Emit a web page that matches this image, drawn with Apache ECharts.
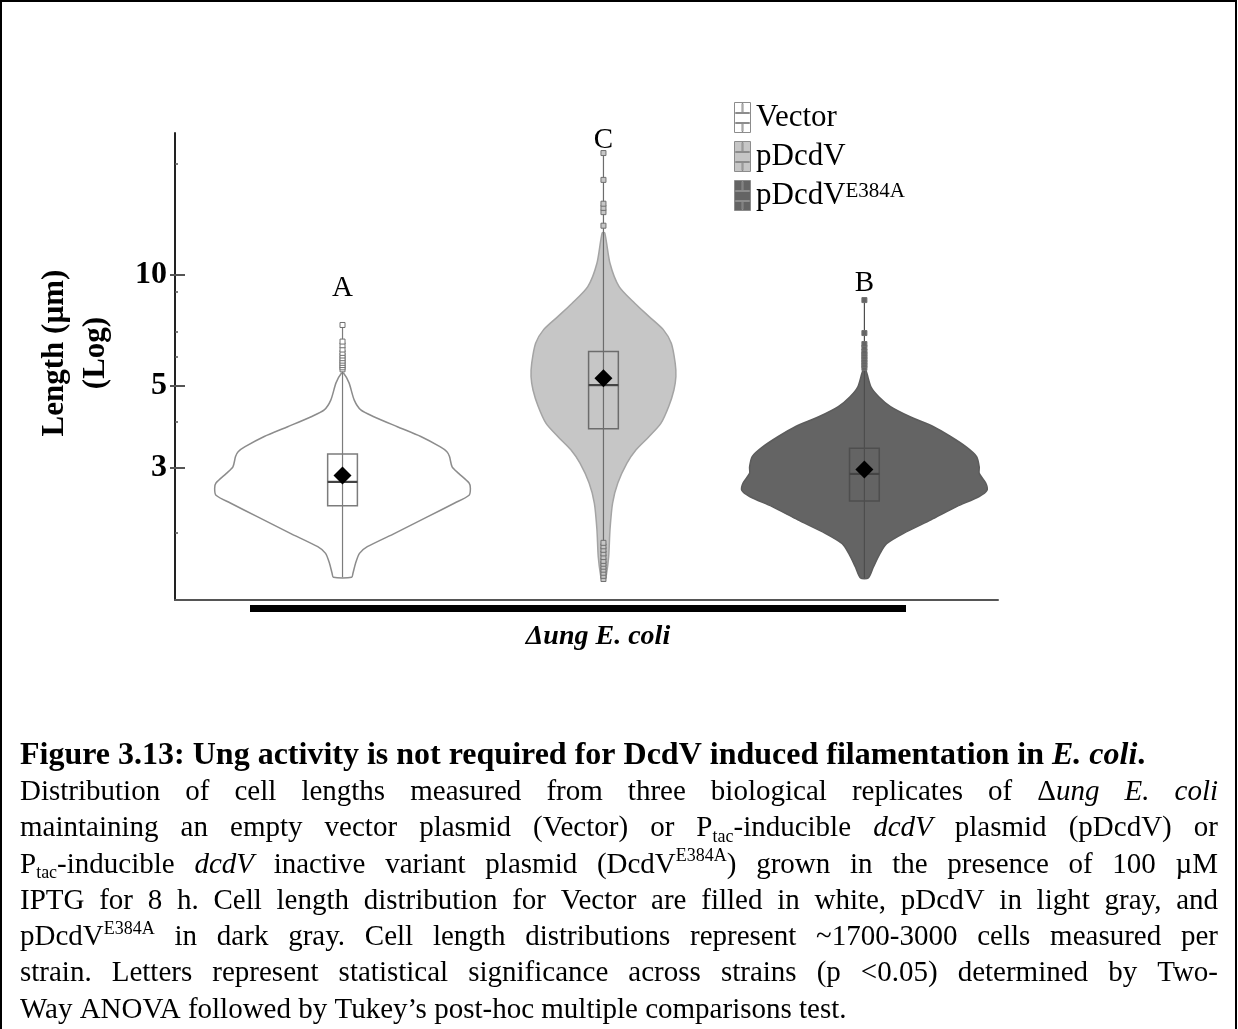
<!DOCTYPE html>
<html><head><meta charset="utf-8">
<script src="https://cdn.jsdelivr.net/npm/echarts@6/dist/echarts.min.js"></script>
<style>html,body{margin:0;padding:0;background:#fff}#c{width:1238px;height:1029px}</style>
</head><body><div id="c"></div>
<script>
// ---------------- data ----------------
const groups = ['Vector', 'pDcdV', 'pDcdVE384A'];
const letters = ['A', 'C', 'B'];
const letterAt = [9.2, 23.2, 9.5];           // µm level of the significance letter
const majorTicks = [3, 5, 10];
const minorTicks = [2, 4, 6, 7, 9, 20];
const yMin = 1.316, yMax = 24.25;            // µm (log axis range)

// violin profiles: cell length (µm) and relative density
const vectorLen = [1.516,1.555,1.655,1.76,1.835,1.995,2.21,2.41,2.53,2.64,2.73,2.90,3.02,3.22,3.32,3.42,3.65,3.88,4.13,4.31,4.58,5.10,5.41];
const vectorDen = [0.07,0.08,0.10,0.13,0.19,0.40,0.65,0.86,0.97,0.98,0.97,0.89,0.84,0.82,0.80,0.75,0.60,0.42,0.24,0.14,0.09,0.05,0.01];
const pdcdvLen  = [1.49,1.52,1.725,2.04,2.41,2.73,3.09,3.36,3.65,3.96,4.40,4.88,5.30,5.76,6.53,7.10,7.71,8.38,9.30,10.76,13.0];
const pdcdvDen  = [0.01,0.02,0.04,0.05,0.07,0.11,0.18,0.25,0.35,0.44,0.50,0.54,0.555,0.55,0.52,0.46,0.35,0.24,0.12,0.05,0.01];
const e384aLen  = [1.51,1.62,1.76,1.87,1.995,2.17,2.36,2.51,2.61,2.73,2.90,3.02,3.22,3.42,3.65,3.88,4.13,4.40,4.68,4.98,5.53];
const e384aDen  = [0.03,0.07,0.12,0.17,0.30,0.51,0.71,0.88,0.94,0.93,0.88,0.88,0.86,0.78,0.66,0.53,0.35,0.20,0.11,0.05,0.01];

// box statistics (µm)
const q1     = [2.37, 3.83, 2.44];
const median = [2.75, 5.03, 2.89];
const q3     = [3.27, 6.20, 3.39];
const mean   = [2.86, 5.25, 2.97];

// outliers (µm)
const vectorOut = [5.55,5.62,5.70,5.78,5.86,5.95,6.05,6.15,6.28,6.45,6.60,7.32];
const pdcdvOut  = [1.50,1.53,1.56,1.59,1.62,1.65,1.68,1.72,1.76,1.80,1.84,1.88,13.6,14.8,15.2,15.6,18.1,21.4];
const e384aOut  = [5.60,5.70,5.80,5.90,6.00,6.10,6.20,6.35,6.50,6.96,8.55];

// ---------------- styles ----------------
const violinLen = [vectorLen, pdcdvLen, e384aLen];
const violinDen = [vectorDen, pdcdvDen, e384aDen];
const outliers  = [vectorOut, pdcdvOut, e384aOut];
const fills   = ['#ffffff', '#c6c6c6', '#646464'];
const strokes = ['#8c8c8c', '#a4a4a4', '#5c5c5c'];
const boxStroke = ['#7c7c7c', '#6c6c6c', '#4e4e4e'];
const VW = 0.5;     // x-units per unit density
const BW = 0.057;   // half box width in x-units
const FONT = '"Liberation Serif", "Times New Roman", serif';
const L = Math.log10;

function makeRender(k) {
  return function (params, api) {
    const xc = k + 1;
    const lens = violinLen[k], dens = violinDen[k];
    const pts = [];
    for (let i = 0; i < lens.length; i++) pts.push(api.coord([xc + dens[i] * VW, L(lens[i])]));
    for (let i = lens.length - 1; i >= 0; i--) pts.push(api.coord([xc - dens[i] * VW, L(lens[i])]));
    const children = [];
    children.push({ type: 'polygon', shape: { points: pts, smooth: 0.25 },
      style: { fill: fills[k], stroke: strokes[k], lineWidth: 1.5 } });
    const all = lens.concat(outliers[k]);
    const lo = api.coord([xc, L(Math.min.apply(null, all))]);
    const hi = api.coord([xc, L(Math.max.apply(null, all))]);
    children.push({ type: 'line', shape: { x1: lo[0], y1: lo[1], x2: hi[0], y2: hi[1] },
      style: { stroke: boxStroke[k], lineWidth: 1.2 } });
    outliers[k].forEach(v => {
      const p = api.coord([xc, L(v)]);
      children.push({ type: 'rect', shape: { x: p[0] - 2.5, y: p[1] - 2.5, width: 5, height: 5 },
        style: { fill: k === 0 ? '#ffffff' : fills[k], stroke: '#707070', lineWidth: 1 } });
    });
    const a = api.coord([xc - BW, L(q3[k])]);
    const b = api.coord([xc + BW, L(q1[k])]);
    children.push({ type: 'rect', shape: { x: a[0], y: a[1], width: b[0] - a[0], height: b[1] - a[1] },
      style: { fill: 'none', stroke: boxStroke[k], lineWidth: 1.5 } });
    const m1 = api.coord([xc - BW, L(median[k])]);
    const m2 = api.coord([xc + BW, L(median[k])]);
    children.push({ type: 'line', shape: { x1: m1[0], y1: m1[1], x2: m2[0], y2: m2[1] },
      style: { stroke: '#444', lineWidth: 2.2 } });
    const mc = api.coord([xc, L(mean[k])]);
    const d = 9;
    children.push({ type: 'polygon', shape: { points: [[mc[0], mc[1] - d], [mc[0] + d, mc[1]], [mc[0], mc[1] + d], [mc[0] - d, mc[1]]] },
      style: { fill: '#000' } });
    const lp = api.coord([xc, L(letterAt[k])]);
    children.push({ type: 'text', x: lp[0], y: lp[1],
      style: { text: letters[k], fontFamily: FONT, fontSize: 29, fill: '#000', align: 'center', verticalAlign: 'middle' } });
    return { type: 'group', children };
  };
}

// ---------------- caption (justified text) ----------------
const CAP = 29;
const capLines = [
  { j: false, d: 'b', t: 'Figure 3.13: Ung activity is not required for DcdV induced filamentation in {bi|E.} {bi|coli}{b|.}' },
  { j: true,  d: 'n', t: 'Distribution of cell lengths measured from three biological replicates of {n|Δ}{i|ung} {i|E.} {i|coli}' },
  { j: true,  d: 'n', t: 'maintaining an empty vector plasmid (Vector) or {n|P}{sub|tac}{n|-inducible} {i|dcdV} plasmid (pDcdV) or' },
  { j: true,  d: 'n', t: '{n|P}{sub|tac}{n|-inducible} {i|dcdV} inactive variant plasmid {n|(DcdV}{sup|E384A}{n|)} grown in the presence of 100 µM' },
  { j: true,  d: 'n', t: 'IPTG for 8 h. Cell length distribution for Vector are filled in white, pDcdV in light gray, and' },
  { j: true,  d: 'n', t: '{n|pDcdV}{sup|E384A} in dark gray. Cell length distributions represent ~1700-3000 cells measured per' },
  { j: true,  d: 'n', t: 'strain. Letters represent statistical significance across strains (p <0.05) determined by Two-' },
  { j: false, d: 'n', t: 'Way ANOVA followed by Tukey’s post-hoc multiple comparisons test.' }
];
const capX0 = 20, capX1 = 1218, capY0 = 756, capDY = 36.3;
const mctx = document.createElement('canvas').getContext('2d');
function segStyle(st) {
  const s = { fontFamily: FONT, fontSize: CAP, fontWeight: 'normal', fontStyle: 'normal', dy: 0 };
  if (st === 'b' || st === 'bi') { s.fontWeight = 'bold'; s.fontSize = 32; }
  if (st === 'i' || st === 'bi') s.fontStyle = 'italic';
  if (st === 'sub') { s.fontSize = Math.round(CAP * 0.62); s.dy = CAP * 0.3; }
  if (st === 'sup') { s.fontSize = Math.round(CAP * 0.62); s.dy = -CAP * 0.3; }
  return s;
}
function measure(text, s) {
  mctx.font = s.fontStyle + ' ' + s.fontWeight + ' ' + s.fontSize + 'px "Liberation Serif"';
  return mctx.measureText(text).width;
}
function parseWord(w, def) {
  const segs = []; const re = /\{(\w+)\|([^}]*)\}|([^{]+)/g; let m;
  while ((m = re.exec(w))) { if (m[1]) segs.push({ st: m[1], t: m[2] }); else segs.push({ st: def, t: m[3] }); }
  return segs;
}
const capElements = [];
capLines.forEach((ln, li) => {
  const y = capY0 + li * capDY;
  const words = ln.t.split(' ').map(w => parseWord(w, ln.d).map(sg => {
    const s = segStyle(sg.st); return { t: sg.t, s, w: measure(sg.t, s) };
  }));
  const widths = words.map(ws => ws.reduce((a, b) => a + b.w, 0));
  const total = widths.reduce((a, b) => a + b, 0);
  const gap = ln.j ? (capX1 - capX0 - total) / (words.length - 1) : measure(' ', segStyle(ln.d));
  let x = capX0;
  words.forEach((ws, wi) => {
    ws.forEach(sg => {
      capElements.push({ type: 'text', x: x, y: y + sg.s.dy, silent: true,
        style: { text: sg.t, fontFamily: FONT, fontSize: sg.s.fontSize, fontWeight: sg.s.fontWeight, fontStyle: sg.s.fontStyle,
          fill: '#000', align: 'left', verticalAlign: 'middle' } });
      x += sg.w;
    });
    x += gap;
  });
});

// ---------------- chart ----------------
const chart = echarts.init(document.getElementById('c'), null, { renderer: 'canvas' });
const legendIcon = 'path://M0,0H16V30H0Z M1,10H15V11H1Z M1,20H15V21H1Z M7.5,1H8.5V10H7.5Z M7.5,21H8.5V29H7.5Z';
const yCommon = { type: 'value', min: L(yMin), max: L(yMax), position: 'left', splitLine: { show: false } };
chart.setOption({
  animation: false,
  backgroundColor: '#fff',
  grid: { left: 175, top: 133, width: 823, height: 467, containLabel: false, outerBoundsMode: 'none' },
  legend: {
    orient: 'vertical', left: 729, top: 97, itemWidth: 17, itemHeight: 30, itemGap: 8,
    icon: legendIcon, selectedMode: false,
    data: groups.map((g, k) => ({ name: g, itemStyle: { color: fills[k], borderColor: '#8c8c8c', borderWidth: 1 } })),
    formatter: n => n === 'pDcdVE384A' ? '{n|pDcdV}{s|E384A}' : '{n|' + n + '}',
    textStyle: { fontFamily: FONT, fontSize: 31, color: '#000',
      rich: { n: { fontFamily: FONT, fontSize: 31, color: '#000', lineHeight: 30 },
              s: { fontFamily: FONT, fontSize: 21, color: '#000', verticalAlign: 'top', lineHeight: 21 } } }
  },
  xAxis: { type: 'value', min: 0.358, max: 3.512,
    axisLine: { show: true, onZero: false, lineStyle: { color: '#555', width: 2 } },
    axisTick: { show: false }, axisLabel: { show: false }, splitLine: { show: false } },
  yAxis: [
    Object.assign({}, yCommon, {
      axisLine: { show: true, onZero: false, lineStyle: { color: '#222', width: 2 } },
      axisTick: { show: true, inside: false, length: 5, customValues: majorTicks.map(L), lineStyle: { color: '#555', width: 2 } },
      axisLabel: { show: true, margin: 8, customValues: majorTicks.map(L),
        formatter: v => String(Math.round(Math.pow(10, v))),
        fontFamily: FONT, fontWeight: 'bold', fontSize: 32, color: '#000' } }),
    Object.assign({}, yCommon, {
      axisLine: { show: false, onZero: false },
      axisTick: { show: true, inside: true, length: 10, customValues: majorTicks.map(L), lineStyle: { color: '#555', width: 2 } },
      axisLabel: { show: false } }),
    Object.assign({}, yCommon, {
      axisLine: { show: false, onZero: false },
      axisTick: { show: true, inside: true, length: 3, customValues: minorTicks.map(L), lineStyle: { color: '#555', width: 1.5 } },
      axisLabel: { show: false } })
  ],
  series: groups.map((g, k) => ({
    name: g, type: 'custom', coordinateSystem: 'cartesian2d', xAxisIndex: 0, yAxisIndex: 0,
    itemStyle: { color: fills[k], borderColor: '#8c8c8c' },
    renderItem: makeRender(k), data: [[k + 1, L(median[k])]], clip: false, silent: true
  })),
  graphic: { elements: [
    { type: 'rect', shape: { x: 1, y: 1, width: 1235, height: 1060 }, style: { fill: 'none', stroke: '#000', lineWidth: 2 }, silent: true },
    { type: 'text', x: 75, y: 353, rotation: Math.PI / 2, silent: true,
      style: { text: 'Length (µm)\n(Log)', fontFamily: FONT, fontWeight: 'bold', fontSize: 31, lineHeight: 41,
        fill: '#000', align: 'center', verticalAlign: 'middle' } },
    { type: 'rect', shape: { x: 250, y: 605, width: 656, height: 7 }, style: { fill: '#000' }, silent: true },
    { type: 'text', x: 598, y: 637, silent: true,
      style: { text: 'Δung E. coli', fontFamily: FONT, fontWeight: 'bold', fontStyle: 'italic', fontSize: 28,
        fill: '#000', align: 'center', verticalAlign: 'middle' } }
  ].concat(capElements) }
});
</script>
</body></html>
